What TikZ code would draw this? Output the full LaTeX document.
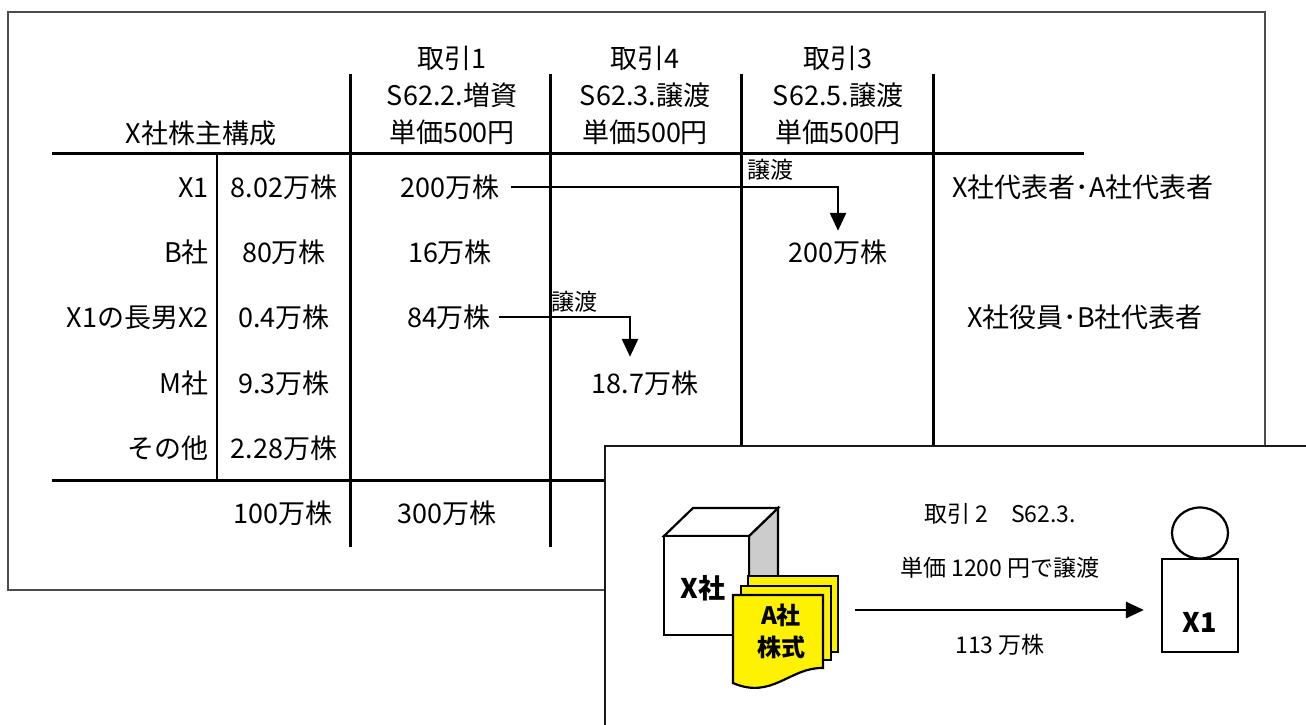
\documentclass[tikz,border=0pt]{standalone}
\usepackage{fontspec}
\setmainfont{Noto Sans CJK JP}
\usetikzlibrary{arrows.meta,shapes.geometric}
\begin{document}
\begin{tikzpicture}[x=1pt,y=-1pt,declare function={xa=350; xb=550; xc=741; xd=933; yt=74; yh=153; yb=480;},
	every node/.style={font=\fontsize{27}{32}\selectfont,inner sep=0pt},
	cell/.style={text height=24pt,text depth=4pt},
	tabline/.style={line width=3pt},
	arr/.style={line width=2.8pt,-{Triangle[length=18pt,width=16pt]}},
	lbl/.style={font=\fontsize{23}{26}\selectfont,anchor=west,cell},
	small/.style={font=\fontsize{23}{26}\selectfont,cell}]
	\useasboundingbox (0,0) rectangle (1306,725);
	\clip (0,0) rectangle (1306,725);
	\draw[line width=1.2pt,gray!60!black] (8,12) rectangle (1265,590);
	\draw[tabline] (52,yh) -- (1084,yh);
	\draw[tabline] (52,yb) -- (xd,yb);
	\foreach \x/\y in {xa/547,xb/547,xc/600,xd/600}{
		\draw[tabline] (\x,yt) -- (\x,\y);
	}
	\draw[line width=1.3pt] (217,yh) -- (217,yb);
	\node[cell] (hd) at (201,133) {X社株主構成};
	\foreach \n/\x/\a/\b in {t1/452/取引1/S62.2.増資,t4/645/取引4/S62.3.譲渡,t3/838/取引3/S62.5.譲渡}{
		\node[cell] (\n a) at (\x,58) {\a};
		\node[cell] (\n b) at (\x,95) {\b};
		\node[cell] (\n c) at (\x,132) {単価500円};
	}
	\foreach \i/\nm/\val/\y in {1/X1/8.02万株/187,2/B社/80万株/252,3/X1の長男X2/0.4万株/317,4/M社/9.3万株/383,5/その他/2.28万株/448}{
		\node[cell,anchor=east] (n\i) at (209,\y) {\nm};
		\node[cell] (v\i) at (284,\y) {\val};
	}
	\node[cell] (p1) at (450,187) {200万株};
	\node[cell] (p2) at (450,252) {16万株};
	\node[cell] (p3) at (449,317) {84万株};
	\node[cell] (q3) at (838,252) {200万株};
	\node[cell] (q4) at (645,383) {18.7万株};
	\node[cell] (s0) at (283,513) {100万株};
	\node[cell] (s1) at (447,513) {300万株};
	\node[lbl] (g3) at (747,168) {譲渡};
	\node[lbl] (g4) at (551,300) {譲渡};
	\node[cell] (r1) at (1083,187) {X社代表者･A社代表者};
	\node[cell] (r3) at (1085,317) {X社役員･B社代表者};
	\draw[arr,shorten <=11pt,shorten >=7pt] (p1.east) -| (q3.north);
	\draw[arr,shorten <=8pt,shorten >=12pt] (p3.east) -| ([xshift=-15pt]q4.north);
	\draw[line width=1.3pt,gray!20!black,fill=white] (605,446) rectangle (1330,745);
	\draw[line width=2.2pt,fill=black!20] (749,536) -- (778,508) -- (778,610) -- (749,635) -- cycle;
	\draw[line width=2.2pt,fill=white] (664,536) -- (693,508) -- (778,508) -- (749,536) -- cycle;
	\draw[line width=2.2pt,fill=white] (664,536) rectangle (749,635);
	\draw[line width=2.2pt,fill=yellow] (748,576) rectangle (838,652);
	\draw[line width=2.2pt,fill=yellow] (741,586) rectangle (831,660);
	\draw[line width=2.2pt,fill=yellow] (733,595) -- (823,595) -- (823,668) .. controls (790,667) and (772,700) .. (733,683) -- cycle;
	\node (xco) at (703,588) {\bfseries X社};
	\node[font=\fontsize{24}{32}\selectfont\bfseries,align=center] (stk) at (781,631) {A社\\株式};
	\node[small] (t2a) at (1000,512) {取引 2\quad S62.3.};
	\node[small] (t2b) at (1000,566) {単価 1200 円で譲渡};
	\node[small] (t2c) at (1000,643) {113 万株};
	\node[draw,line width=2.2pt,minimum width=76pt,minimum height=93pt] (body) at (1200,605.5) {};
	\node[draw,ellipse,line width=2.2pt,minimum width=56pt,minimum height=51pt] (head) at (1200,533) {};
	\node[cell] (x1) at (1200,622) {\bfseries X1};
	\coordinate (src) at (855,610);
	\draw[arr,shorten >=17pt] (src) -- (src -| body.west);
\end{tikzpicture}
\end{document}
